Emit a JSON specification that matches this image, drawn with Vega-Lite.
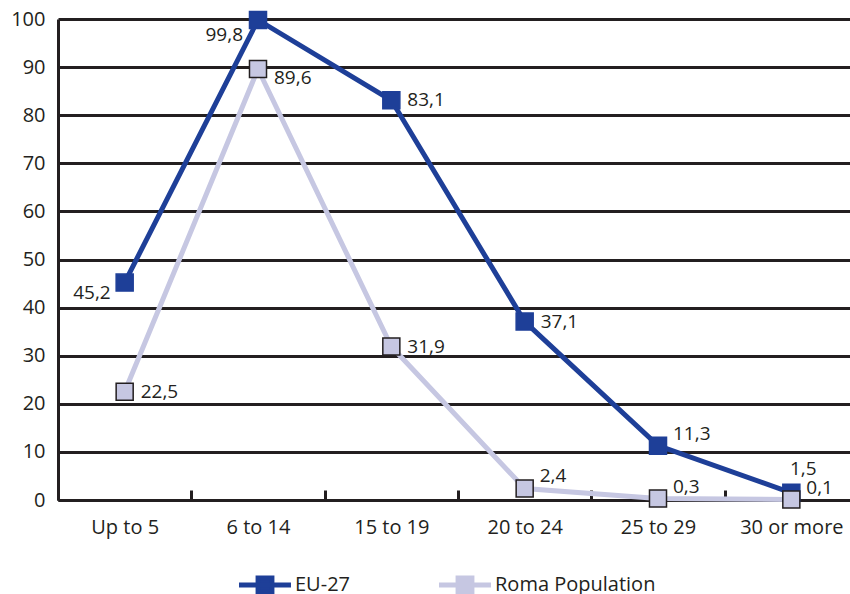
{
  "$schema": "https://vega.github.io/schema/vega-lite/v6.json",
  "autosize": {"type": "none"},
  "padding": {"left": 58, "top": 19, "right": 0, "bottom": 94},
  "width": 800,
  "height": 481,
  "background": "white",
  "config": {
    "locale": {"number": {"decimal": ",", "thousands": ".", "grouping": [3], "currency": ["", ""]}},
    "view": {"stroke": null},
    "font": "Open Sans",
    "text": {"font": "Open Sans", "fontSize": 19, "fill": "#231f20"}
  },
  "data": {
    "values": [
      {"age": "Up to 5", "series": "EU-27", "value": 45.2},
      {"age": "6 to 14", "series": "EU-27", "value": 99.8},
      {"age": "15 to 19", "series": "EU-27", "value": 83.1},
      {"age": "20 to 24", "series": "EU-27", "value": 37.1},
      {"age": "25 to 29", "series": "EU-27", "value": 11.3},
      {"age": "30 or more", "series": "EU-27", "value": 1.5},
      {"age": "Up to 5", "series": "Roma Population", "value": 22.5},
      {"age": "6 to 14", "series": "Roma Population", "value": 89.6},
      {"age": "15 to 19", "series": "Roma Population", "value": 31.9},
      {"age": "20 to 24", "series": "Roma Population", "value": 2.4},
      {"age": "25 to 29", "series": "Roma Population", "value": 0.3},
      {"age": "30 or more", "series": "Roma Population", "value": 0.1}
    ]
  },
  "encoding": {
    "x": {
      "field": "age", "type": "nominal", "sort": null,
      "scale": {"paddingInner": 0, "paddingOuter": 0},
      "axis": {
        "title": null, "labelAngle": 0, "labelFont": "Open Sans", "labelFontSize": 20,
        "labelColor": "#231f20", "domainColor": "#231f20", "domainWidth": 3,
        "tickColor": "#231f20", "tickWidth": 3, "tickSize": -10, "tickBand": "extent",
        "labelPadding": 27, "grid": false
      }
    },
    "y": {
      "field": "value", "type": "quantitative",
      "scale": {"domain": [0, 100], "nice": false},
      "axis": {
        "title": null, "values": [0, 10, 20, 30, 40, 50, 60, 70, 80, 90, 100],
        "labelFont": "Open Sans", "labelFontSize": 20, "labelColor": "#231f20", "labelAlign": "right",
        "domainColor": "#231f20", "domainWidth": 3, "ticks": false, "tickSize": 0, "labelPadding": 13,
        "grid": true, "gridColor": "#231f20", "gridWidth": 3, "gridOpacity": 1
      }
    }
  },
  "layer": [
    {
      "mark": {"type": "line", "strokeWidth": 5},
      "encoding": {
        "color": {
          "field": "series", "type": "nominal",
          "scale": {"domain": ["EU-27", "Roma Population"], "range": ["#1e3f98", "#c6c7e2"]},
          "legend": {
            "title": null, "orient": "none", "direction": "horizontal",
            "legendX": 187, "legendY": 546,
            "symbolType": "M-1.5,0H1.5M-0.4,-0.4H0.4V0.4H-0.4Z",
            "symbolSize": 1200, "symbolStrokeWidth": 5,
            "labelFont": "Open Sans", "labelFontSize": 20, "labelColor": "#231f20", "labelLimit": 300,
            "columnPadding": 79, "symbolOffset": 0, "labelOffset": 10,
            "encode": {"symbols": {"update": {"fill": {"scale": "color", "field": "value"}}}}
          }
        },
        "order": {"field": "series"}
      }
    },
    {
      "mark": {"type": "point", "shape": "square", "filled": true, "size": 290, "opacity": 1},
      "encoding": {
        "color": {"field": "series", "type": "nominal", "legend": null},
        "stroke": {
          "condition": {"test": "datum.series === 'Roma Population'", "value": "#231f20"},
          "value": "#1e3f98"
        },
        "strokeWidth": {"value": 1.5}
      }
    },
    {
      "transform": [{"filter": "(datum.series === 'EU-27' && (datum.age === '15 to 19' || datum.age === '20 to 24')) || (datum.series === 'Roma Population' && (datum.age === 'Up to 5' || datum.age === '15 to 19'))"}],
      "mark": {"type": "text", "align": "left", "baseline": "middle", "dx": 16, "dy": 0},
      "encoding": {"text": {"field": "value", "type": "quantitative", "format": ".1f"}}
    },
    {
      "transform": [{"filter": "datum.series === 'EU-27' && datum.age === 'Up to 5'"}],
      "mark": {"type": "text", "align": "right", "baseline": "middle", "dx": -14, "dy": 10},
      "encoding": {"text": {"field": "value", "type": "quantitative", "format": ".1f"}}
    },
    {
      "transform": [{"filter": "datum.series === 'EU-27' && datum.age === '6 to 14'"}],
      "mark": {"type": "text", "align": "right", "baseline": "middle", "dx": -15, "dy": 15},
      "encoding": {"text": {"field": "value", "type": "quantitative", "format": ".1f"}}
    },
    {
      "transform": [{"filter": "datum.series === 'Roma Population' && datum.age === '6 to 14'"}],
      "mark": {"type": "text", "align": "left", "baseline": "middle", "dx": 16, "dy": 9},
      "encoding": {"text": {"field": "value", "type": "quantitative", "format": ".1f"}}
    },
    {
      "transform": [{"filter": "(datum.series === 'EU-27' && datum.age === '25 to 29') || (datum.series === 'Roma Population' && (datum.age === '20 to 24' || datum.age === '25 to 29' || datum.age === '30 or more'))"}],
      "mark": {"type": "text", "align": "left", "baseline": "middle", "dx": 15, "dy": -12},
      "encoding": {"text": {"field": "value", "type": "quantitative", "format": ".1f"}}
    },
    {
      "transform": [{"filter": "datum.series === 'EU-27' && datum.age === '30 or more'"}],
      "mark": {"type": "text", "align": "center", "baseline": "middle", "dx": 12, "dy": -24},
      "encoding": {"text": {"field": "value", "type": "quantitative", "format": ".1f"}}
    }
  ]
}
